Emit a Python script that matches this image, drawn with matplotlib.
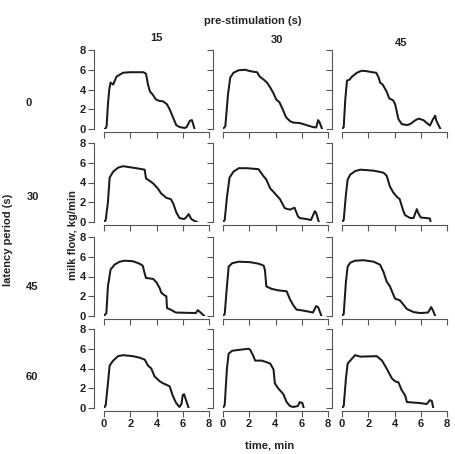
import matplotlib
matplotlib.use("Agg")
import matplotlib.pyplot as plt

plt.rcParams['font.family'] = ['Liberation Sans', 'DejaVu Sans']
plt.rcParams['font.weight'] = 'bold'

pre_stim = ["15", "30", "45"]
latency = ["0", "30", "45", "60"]
x_ticks = [0, 2, 4, 6, 8]
y_ticks = [0, 2, 4, 6, 8]

# curves[row][col] = (time, flow)
t_0_15 = [0, 0.1, 0.2, 0.3, 0.4, 0.5, 0.7, 0.95, 1.45, 2.0, 2.6, 3.0, 3.2, 3.35, 3.5, 3.7, 3.95, 4.2, 4.5, 4.8, 5.0, 5.25, 5.5, 5.75, 6.15, 6.3, 6.55, 6.7, 6.9]
f_0_15 = [0, 0, 0.3, 2.5, 4.0, 4.7, 4.5, 5.3, 5.7, 5.75, 5.75, 5.75, 5.6, 4.5, 3.8, 3.5, 3.0, 2.85, 2.8, 2.5, 2.0, 1.2, 0.4, 0.2, 0.1, 0.2, 0.85, 0.9, 0]
t_0_30 = [0, 0.18, 0.38, 0.55, 0.8, 1.2, 1.7, 1.95, 2.3, 2.6, 2.8, 3.1, 3.35, 3.6, 3.85, 4.05, 4.3, 4.55, 4.8, 5.1, 5.35, 5.85, 6.35, 6.85, 7.1, 7.25, 7.35, 7.55]
f_0_30 = [0, 0.3, 3.5, 5.2, 5.7, 5.95, 6.0, 5.9, 5.8, 5.75, 5.3, 5.0, 4.7, 4.2, 3.6, 3.0, 2.7, 2.0, 1.2, 0.8, 0.65, 0.6, 0.4, 0.2, 0.15, 0.9, 0.7, 0]
t_0_45 = [0, 0.13, 0.25, 0.38, 0.58, 0.76, 1.14, 1.5, 1.9, 2.3, 2.6, 2.8, 2.9, 3.1, 3.4, 3.6, 3.9, 4.05, 4.3, 4.55, 4.95, 5.2, 5.6, 5.85, 6.2, 6.7, 6.9, 7.1, 7.2, 7.5]
f_0_45 = [0, 0.2, 3.0, 4.9, 5.0, 5.3, 5.7, 5.9, 5.85, 5.75, 5.7, 5.2, 4.7, 4.5, 3.8, 3.1, 2.9, 2.5, 1.0, 0.5, 0.4, 0.5, 0.9, 1.05, 0.9, 0.35, 0.9, 1.35, 0.8, 0]

t_30_15 = [0, 0.13, 0.3, 0.43, 0.7, 1.07, 1.45, 1.95, 2.45, 3.1, 3.2, 3.5, 3.75, 4.1, 4.35, 4.75, 5.0, 5.1, 5.3, 5.5, 5.75, 6.1, 6.25, 6.45, 6.65, 6.9, 7.1]
f_30_15 = [0, 0.2, 2.0, 4.5, 5.1, 5.5, 5.65, 5.55, 5.45, 5.3, 4.4, 4.15, 3.9, 3.4, 2.9, 2.45, 2.35, 2.3, 1.8, 1.0, 0.4, 0.3, 0.45, 0.8, 0.3, 0.1, 0]
t_30_30 = [0, 0.13, 0.3, 0.5, 0.8, 1.2, 1.8, 2.7, 3.05, 3.3, 3.6, 3.95, 4.35, 4.7, 5.1, 5.45, 5.7, 5.85, 6.35, 6.7, 7.0, 7.1, 7.3]
f_30_30 = [0, 0.2, 2.5, 4.5, 5.1, 5.45, 5.45, 5.35, 4.7, 4.3, 3.4, 2.9, 2.3, 1.4, 1.25, 1.45, 0.6, 0.4, 0.3, 0.2, 1.1, 0.9, 0]
t_30_45 = [0, 0.13, 0.3, 0.43, 0.63, 1.0, 1.4, 2.4, 3.15, 3.4, 3.65, 3.9, 4.15, 4.4, 4.65, 4.8, 5.2, 5.45, 5.7, 5.85, 6.0, 6.45, 6.7, 6.75]
f_30_45 = [0, 0.2, 2.8, 4.3, 4.8, 5.15, 5.3, 5.2, 5.0, 4.7, 3.6, 3.0, 2.6, 2.3, 1.2, 0.7, 0.4, 0.4, 1.3, 0.8, 0.45, 0.4, 0.35, 0]

t_45_15 = [0, 0.18, 0.3, 0.5, 0.8, 1.2, 1.57, 2.2, 2.7, 2.95, 3.1, 3.2, 3.5, 3.75, 4.0, 4.25, 4.35, 4.6, 4.75, 4.8, 5.15, 5.4, 5.5, 7.0, 7.15, 7.4, 7.65]
f_45_15 = [0, 0.3, 3.0, 4.7, 5.2, 5.5, 5.6, 5.55, 5.3, 5.1, 4.3, 3.85, 3.8, 3.75, 3.4, 2.8, 2.4, 2.1, 2.0, 0.8, 0.6, 0.4, 0.35, 0.3, 0.6, 0.3, 0]
t_45_30 = [0, 0.13, 0.3, 0.43, 0.7, 1.2, 2.07, 2.7, 3.1, 3.2, 3.3, 3.7, 4.2, 4.85, 5.1, 5.35, 5.6, 6.1, 6.5, 6.85, 7.1, 7.25, 7.5]
f_45_30 = [0, 0.2, 3.0, 5.0, 5.35, 5.5, 5.45, 5.3, 5.1, 4.6, 3.0, 2.75, 2.6, 2.5, 1.7, 1.1, 0.65, 0.55, 0.45, 0.35, 1.0, 0.9, 0]
t_45_45 = [0, 0.13, 0.3, 0.43, 0.63, 1.0, 1.65, 2.4, 2.9, 3.15, 3.4, 3.65, 3.9, 4.05, 4.4, 4.65, 4.95, 5.45, 5.95, 6.55, 6.8, 6.95, 7.1]
f_45_45 = [0, 0.2, 3.5, 5.0, 5.4, 5.6, 5.65, 5.5, 5.2, 4.5, 3.5, 3.0, 2.2, 1.75, 1.6, 1.2, 0.7, 0.4, 0.3, 0.35, 0.9, 0.5, 0]

t_60_15 = [0, 0.13, 0.3, 0.43, 0.7, 1.07, 1.45, 2.2, 2.7, 3.1, 3.35, 3.6, 3.85, 4.25, 4.5, 5.0, 5.25, 5.5, 5.75, 5.9, 6.0, 6.1, 6.25, 6.45]
f_60_15 = [0, 0.3, 2.5, 4.3, 4.8, 5.25, 5.35, 5.25, 5.1, 4.9, 4.3, 4.0, 3.2, 2.7, 2.5, 2.2, 1.2, 0.5, 0.1, 0.4, 1.3, 1.4, 0.8, 0]
t_60_30 = [0, 0.13, 0.3, 0.43, 0.7, 1.3, 1.95, 2.07, 2.3, 2.45, 2.95, 3.3, 3.6, 3.85, 3.95, 4.2, 4.6, 4.85, 5.1, 5.35, 5.7, 5.85, 6.05, 6.15]
f_60_30 = [0, 0.3, 4.0, 5.5, 5.8, 5.9, 6.0, 5.9, 5.3, 4.8, 4.8, 4.65, 4.5, 3.9, 2.5, 2.0, 1.4, 0.6, 0.2, 0.1, 0.2, 0.6, 0.5, 0]
t_60_45 = [0, 0.13, 0.3, 0.43, 0.76, 1.0, 1.4, 2.65, 3.05, 3.4, 3.8, 4.05, 4.3, 4.55, 4.8, 4.95, 5.45, 5.95, 6.45, 6.7, 6.85, 6.95]
f_60_45 = [0, 0.2, 3.0, 4.5, 5.0, 5.35, 5.2, 5.25, 4.8, 4.0, 3.0, 2.7, 2.6, 1.8, 1.3, 0.6, 0.55, 0.5, 0.4, 0.8, 0.7, 0]

curves = [
    [(t_0_15, f_0_15), (t_0_30, f_0_30), (t_0_45, f_0_45)],
    [(t_30_15, f_30_15), (t_30_30, f_30_30), (t_30_45, f_30_45)],
    [(t_45_15, f_45_15), (t_45_30, f_45_30), (t_45_45, f_45_45)],
    [(t_60_15, f_60_15), (t_60_30, f_60_30), (t_60_45, f_60_45)],
]

W, H = 455, 454
fig = plt.figure(figsize=(W / 100, H / 100), dpi=100)

col_left = [104, 223, 342]
row_top = [50, 143, 237, 329]
aw, ah = 105, 79
spine_col = '#555555'
fs = 8

for r in range(4):
    for c in range(3):
        ax = fig.add_axes([col_left[c] / W, 1 - (row_top[r] + ah) / H, aw / W, ah / H])
        t, f = curves[r][c]
        ax.plot(t, f, color='#1a1a1a', lw=1.45, solid_joinstyle='round',
                solid_capstyle='round')
        ax.set_xlim(0, 8)
        ax.set_ylim(0, 8)
        ax.set_xticks(x_ticks)
        ax.set_yticks(y_ticks)
        for s in ['top', 'right']:
            ax.spines[s].set_visible(False)
        ax.spines['left'].set_position(('outward', 7))
        ax.spines['bottom'].set_position(('outward', 2))
        for s in ['left', 'bottom']:
            ax.spines[s].set_color(spine_col)
            ax.spines[s].set_linewidth(0.8)
        ax.tick_params(length=4, width=0.8, color=spine_col, labelsize=fs, pad=2,
                       labelcolor='#222222')
        if c != 0:
            ax.set_yticklabels([])
        else:
            ax.set_yticklabels([str(v) for v in y_ticks], fontweight='bold')
        if r != 3:
            ax.set_xticklabels([])
        else:
            ax.set_xticklabels([str(v) for v in x_ticks], fontweight='bold')
        ax.patch.set_alpha(0)

def ftext(x, y, s, **kw):
    fig.text(x / W, 1 - y / H, s, ha='center', va='center', fontsize=fs,
             fontweight='bold', color='#222222', **kw)

ftext(253, 21, "pre-stimulation (s)")
ftext(156, 38, pre_stim[0])
ftext(277, 40, pre_stim[1])
ftext(401, 43, pre_stim[2])
for lbl, (x, y) in zip(latency, [(29, 103), (33, 197), (32, 287), (32, 377)]):
    ftext(x, y, lbl)
ftext(8, 240, "latency period (s)", rotation=90)
ftext(73, 235, "milk flow, kg/min", rotation=90)
ftext(270, 446, "time, min")

fig.savefig("out.png", dpi=100)
